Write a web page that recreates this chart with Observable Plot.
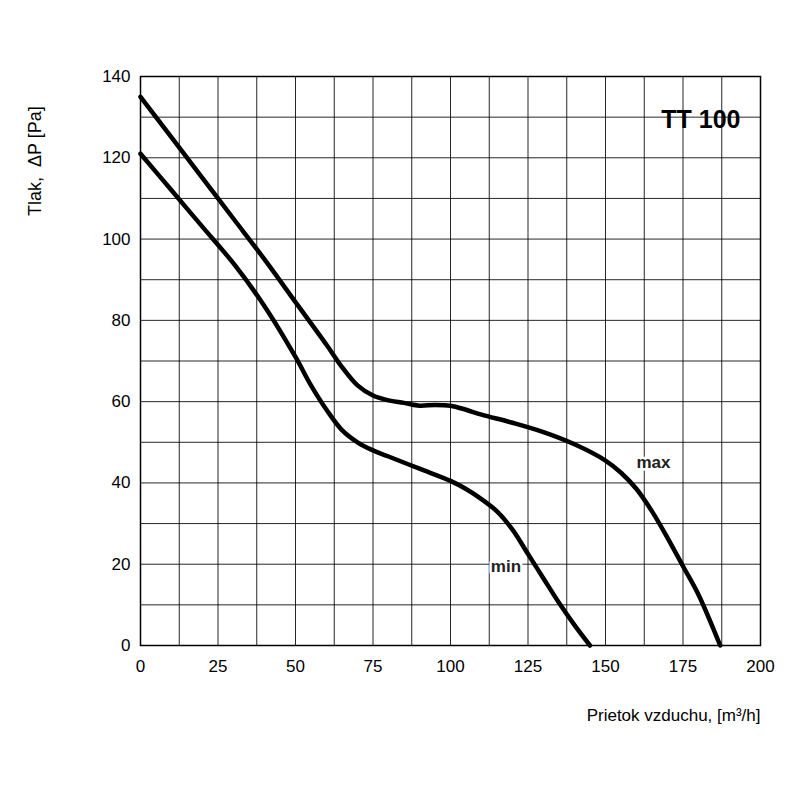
<!DOCTYPE html>
<html><head>
<script src="https://cdn.jsdelivr.net/npm/d3@7"></script>
<script src="https://cdn.jsdelivr.net/npm/@observablehq/plot@0.6"></script>
<style>body{margin:0;background:#fff;font-family:Arial,"Liberation Sans",sans-serif}</style>
</head><body><div id="c"></div>
<script>
const maxX = [0,10,20,30,40,50,60,65,70,75,80,85,90,95,100,105,110,120,130,140,150,155,160,165,170,175,180,187];
const maxY = [135,125,115,105,95,84.5,74,68.5,64,61.5,60.3,59.7,59,59.2,59,58,56.8,54.8,52.5,49.5,45.5,42.5,38.5,33,26.5,19.5,12.5,0];
const minX = [0,10,20,30,40,50,55,60,65,70,75,80,90,100,105,110,115,120,125,130,135,140,145];
const minY = [121,112,103,94,83.5,71,64,58,53,50,48,46.5,43.5,40.5,38.5,36,33,28.5,22.5,16.5,10.5,5,0];
const curve = (xs, ys, name) => xs.map((x,i)=>({x, y: ys[i], name}));
const data = [...curve(maxX,maxY,"max"), ...curve(minX,minY,"min")];
const labels = [{x:160,y:45,t:"max"},{x:113,y:19.5,t:"min"}];
const chart = Plot.plot({
  width:800, height:800,
  marginLeft:140, marginRight:40, marginTop:76, marginBottom:155,
  style:{fontSize:"17px", fontFamily:"Arial, Liberation Sans, sans-serif", color:"#000"},
  x:{domain:[0,200], ticks:d3.range(0,201,25), tickSize:0, tickPadding:14, label:null},
  y:{domain:[0,140], ticks:d3.range(0,141,20), tickSize:0, tickPadding:10, label:null},
  marks:[
    Plot.gridX(d3.range(0,201,12.5), {stroke:"#000", strokeOpacity:0.85, strokeWidth:1}),
    Plot.gridY(d3.range(0,141,10), {stroke:"#000", strokeOpacity:0.85, strokeWidth:1}),
    Plot.frame({stroke:"#000", strokeWidth:1.5}),
    Plot.line(data, {x:"x", y:"y", z:"name", curve:"catmull-rom", stroke:"#000", strokeWidth:4.5}),
    Plot.text(labels, {x:"x", y:"y", text:"t", fontWeight:"bold", fontSize:17, fill:"#222", stroke:"#fff", strokeWidth:5, textAnchor:"start"}),
    Plot.text(["TT 100"], {frameAnchor:"top-right", dx:-20, dy:34, fontWeight:"bold", fontSize:25, textAnchor:"end"}),
    Plot.text(["Tlak,  ΔP [Pa]"], {frameAnchor:"left", dx:-105, dy:-145, rotate:-90, fontSize:18}),
    Plot.text(["Prietok vzduchu, [m³/h]"], {frameAnchor:"bottom-right", dy:75, dx:0, textAnchor:"end", fontSize:17})
  ]
});
document.getElementById("c").append(chart);
</script></body></html>
